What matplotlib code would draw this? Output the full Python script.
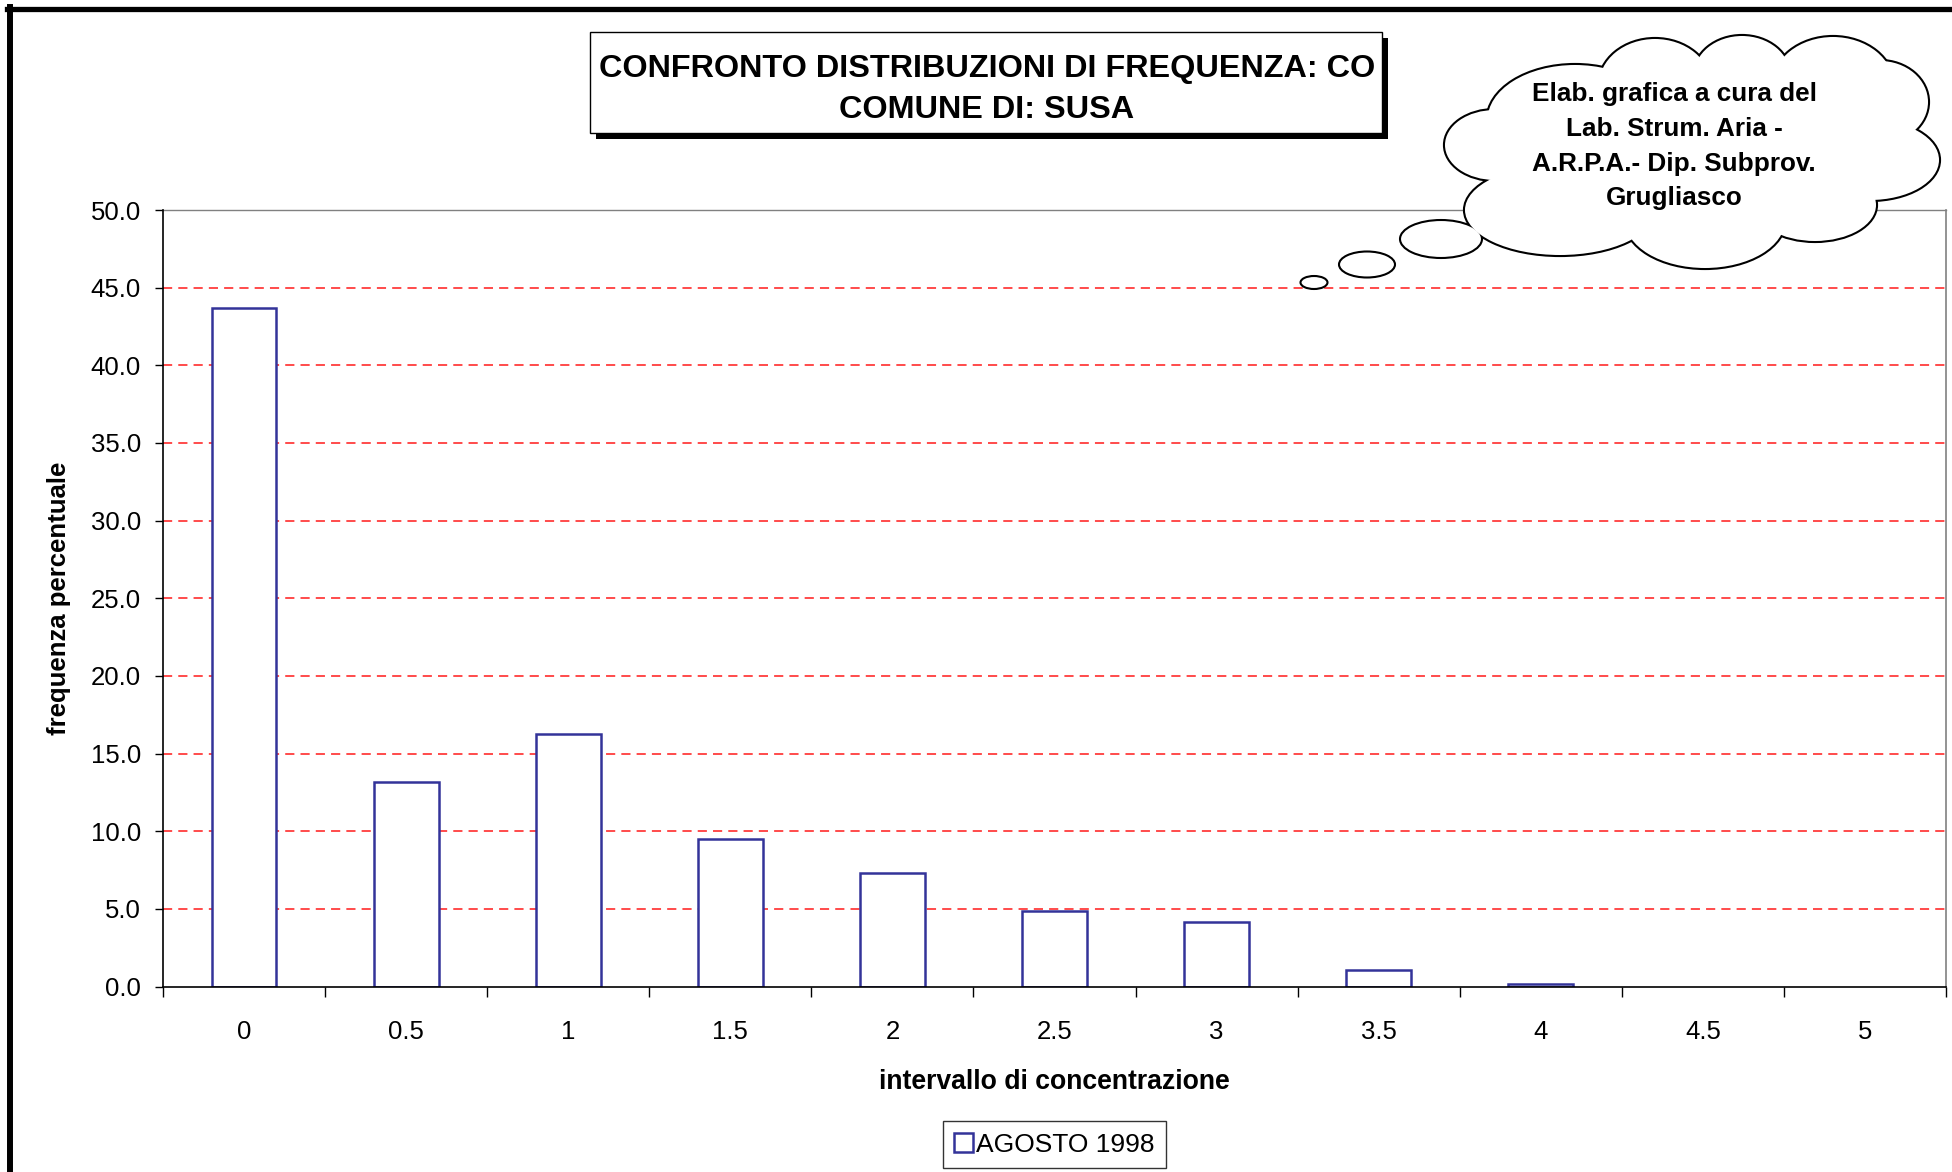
import matplotlib
matplotlib.use("Agg")
import matplotlib.pyplot as plt
from matplotlib.patches import Ellipse, Rectangle
from matplotlib.lines import Line2D
from matplotlib.ticker import FixedLocator, NullFormatter, FixedFormatter

plt.rcParams['font.family'] = ['Liberation Sans', 'DejaVu Sans']

# ---- data ----
categories = ['0', '0.5', '1', '1.5', '2', '2.5', '3', '3.5', '4', '4.5', '5']
values = [43.7, 13.2, 16.25, 9.5, 7.3, 4.85, 4.15, 1.05, 0.15, 0.0, 0.0]
series_name = 'AGOSTO 1998'
yticks = [0, 5, 10, 15, 20, 25, 30, 35, 40, 45, 50]
title_lines = ['CONFRONTO DISTRIBUZIONI DI FREQUENZA: CO', 'COMUNE DI: SUSA']
cloud_lines = ['Elab. grafica a cura del', 'Lab. Strum. Aria -',
               'A.R.P.A.- Dip. Subprov.', 'Grugliasco']
xlabel = 'intervallo di concentrazione'
ylabel = 'frequenza percentuale'

W, H = 1952, 1172
fig = plt.figure(figsize=(W / 100, H / 100), dpi=100)
fig.patch.set_facecolor('white')

L, R, T, B = 163, 1946, 210, 986.5
ax = fig.add_axes([L / W, 1 - B / H, (R - L) / W, (B - T) / H])

bar_color = '#333399'
x = list(range(len(categories)))
edges = [bar_color if v > 0 else 'none' for v in values]
bars = ax.bar(x, values, width=0.4, facecolor='white', edgecolor=edges,
              linewidth=1.8, zorder=3, label=series_name)

ax.set_xlim(-0.5, len(categories) - 0.5)
ax.set_ylim(0, 50)

TS = 18.5
# y axis
ax.set_yticks(yticks)
ax.set_yticklabels([f'{v:.1f}' for v in yticks])
ax.tick_params(axis='y', direction='out', length=6, width=1, pad=10,
               labelsize=TS, colors='black')
# gridlines
for v in yticks[1:]:
    ax.axhline(v, color='#ff1a1a', linewidth=1.1, linestyle=(0, (6, 4)), zorder=1)

# x axis: ticks at boundaries, labels at centres
ax.xaxis.set_major_locator(FixedLocator([i - 0.5 for i in range(len(categories) + 1)]))
ax.xaxis.set_major_formatter(NullFormatter())
ax.xaxis.set_minor_locator(FixedLocator(x))
ax.xaxis.set_minor_formatter(FixedFormatter(categories))
ax.tick_params(axis='x', which='major', direction='out', length=7, width=1)
ax.tick_params(axis='x', which='minor', length=0, pad=24, labelsize=TS)

for s in ['left', 'bottom']:
    ax.spines[s].set_color('black')
    ax.spines[s].set_linewidth(1.2)
ax.spines['right'].set_color('#808080')
ax.spines['right'].set_linewidth(1.2)
ax.spines['top'].set_color('#808080')
ax.spines['top'].set_linewidth(1.0)
ax.spines['left'].set_zorder(5)
ax.spines['bottom'].set_zorder(5)

ax.set_xlabel(xlabel, fontsize=19.2, fontweight='bold', labelpad=18)
ax.set_ylabel(ylabel, fontsize=TS, fontweight='bold', labelpad=14)

# legend
leg = fig.legend(handles=[bars], labels=[series_name],
                 loc='center', bbox_to_anchor=((941 + 1168) / 2 / W, 1 - 1144.5 / H),
                 fontsize=19, frameon=True, fancybox=False, edgecolor='black',
                 handlelength=0.7, handleheight=0.7, handletextpad=0.15,
                 borderpad=0.42, borderaxespad=0)
leg.get_frame().set_linewidth(1.0)

# ---- overlay for decorations (pixel coordinates) ----
ov = fig.add_axes([0, 0, 1, 1], zorder=10)
ov.set_xlim(0, W)
ov.set_ylim(H, 0)
ov.axis('off')
ov.patch.set_alpha(0)

# outer chart border (only left and top visible)
ov.add_line(Line2D([7, W], [8.5, 8.5], color='black', linewidth=3.8))
ov.add_line(Line2D([10, 10], [6.5, H], color='black', linewidth=4.3))

# title box with shadow
ov.add_patch(Rectangle((596, 38), 792, 101, facecolor='black', edgecolor='none', zorder=1))
ov.add_patch(Rectangle((590, 32), 792, 101, facecolor='white', edgecolor='black',
                       linewidth=1.0, zorder=2))
ov.text(987, 69.5, title_lines[0], ha='center', va='center', fontsize=23.3,
        fontweight='bold', zorder=3)
ov.text(987, 109.5, title_lines[1], ha='center', va='center', fontsize=23.3,
        fontweight='bold', zorder=3)

# thought cloud
lobes = [
    (1575, 120, 175, 110),
    (1655, 85, 112, 92),
    (1742, 75, 96, 78),
    (1833, 86, 122, 98),
    (1880, 102, 96, 82),
    (1870, 160, 138, 80),
    (1815, 205, 122, 72),
    (1705, 220, 160, 96),
    (1560, 210, 190, 90),
    (1495, 145, 100, 70),
    (1690, 150, 360, 160),
]
for cx, cy, w, h in lobes:
    ov.add_patch(Ellipse((cx, cy), w, h, facecolor='white', edgecolor='black',
                         linewidth=3.0, zorder=4))
for cx, cy, w, h in lobes:
    ov.add_patch(Ellipse((cx, cy), w, h, facecolor='white', edgecolor='none', zorder=5))

bubbles = [(1314, 282.5, 27, 13), (1367, 264.5, 56, 26), (1441, 239, 82, 38)]
for cx, cy, w, h in bubbles:
    ov.add_patch(Ellipse((cx, cy), w, h, facecolor='white', edgecolor='black',
                         linewidth=1.5, zorder=4))

for i, t in enumerate(cloud_lines):
    ov.text(1674, 94.5 + i * 34.5, t, ha='center', va='center', fontsize=18.8,
            fontweight='bold', zorder=6)

fig.savefig('out.png', dpi=100)
